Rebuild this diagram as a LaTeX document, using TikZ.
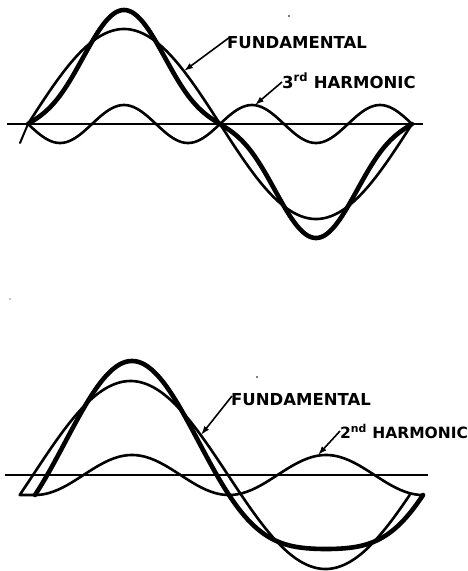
\documentclass[tikz,border=0pt]{standalone}
\usepackage{fontspec}
\setmainfont{DejaVu Sans}
\usetikzlibrary{arrows.meta}
\begin{document}
\begin{tikzpicture}[x=1pt,y=-1pt,
  axisline/.style={line width=1.6pt},
  wave/.style={line width=2.6pt, line join=round, line cap=round},
  sumwave/.style={line width=4.6pt, line join=round, line cap=round},
  lab/.style={font=\fontsize{16.5}{16.5}\selectfont\bfseries, inner sep=0pt, anchor=base west},
  pointer/.style={line width=1.6pt, -{Latex[length=9pt,width=6pt]}},
]
\useasboundingbox (0,0) rectangle (467,571);

% ---------- top: fundamental + 3rd harmonic ----------
\draw[axisline] (7,124) -- (423,124);
\draw[wave] plot[domain=0:360,samples=181] ({28+\x*1.066667},{124-95*sin(\x)});
\draw[wave] plot[domain=0:360,samples=181] ({28+\x*1.066667},{124+19*sin(3*\x)});
\draw[sumwave] plot[domain=0:360,samples=181] ({28+\x*1.066667},{124-95*sin(\x)+19*sin(3*\x)});
\draw[wave, line width=2pt] (28,124) -- (20,143);

\node[lab] (f1) at (227,48) {FUNDAMENTAL};
\node[lab] (h1) at (282,88) {3\textsuperscript{rd} HARMONIC};
\coordinate (t1) at (184,71);
\coordinate (t2) at (255,105);
\draw[pointer] ([shift={(2,2)}]f1.north west) -- (t1);
\draw[pointer] ([shift={(0,-6)}]h1.base west) -- (t2);

% ---------- bottom: fundamental + 2nd harmonic ----------
\draw[axisline] (5,475) -- (428,475);
\draw[wave] (35,495) -- plot[domain=-12.3:347.7,samples=181] ({33+\x*1.083333},{475-94*sin(\x)});
\draw[wave] plot[domain=0:360,samples=181] ({35+\x*1.077778},{475+20*cos(2*\x)});
\draw[sumwave] plot[domain=0:360,samples=181] ({35+\x*1.077778},{475-94*sin(\x)+20*cos(2*\x)});

\node[lab] (f2) at (231,405) {FUNDAMENTAL};
\node[lab, font=\fontsize{15.5}{15.5}\selectfont\bfseries] (h2) at (340,438) {2\textsuperscript{nd} HARMONIC};
\coordinate (t3) at (201,435);
\coordinate (t4) at (318,455);
\draw[pointer] ([shift={(1,-9)}]f2.base west) -- (t3);
\draw[pointer] ([shift={(0,-7)}]h2.base west) -- (t4);

% stray specks of the original
\fill (289,16) circle (0.9);
\fill (257,377) circle (0.9);
\fill (10,299) circle (0.7);
\end{tikzpicture}
\end{document}
